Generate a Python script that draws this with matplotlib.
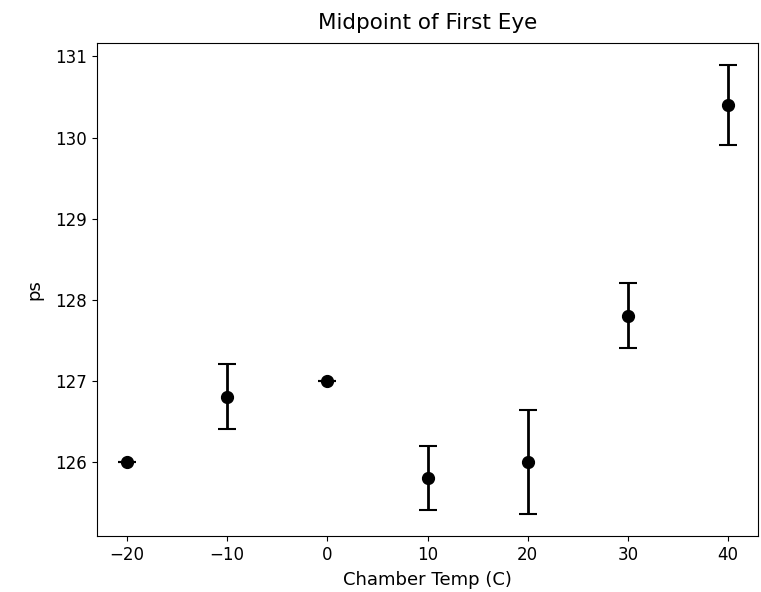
import matplotlib
matplotlib.use('Agg')
import matplotlib.pyplot as plt

temps = [-20, -10, 0, 10, 20, 30, 40]
midpoint = [126.0, 126.8, 127.0, 125.8, 126.0, 127.8, 130.4]
err = [0.0, 0.4, 0.0, 0.4, 0.64, 0.4, 0.49]

fig = plt.figure(figsize=(7.61, 5.92), dpi=100)
ax = fig.add_axes([0.1275, 0.0946, 0.8686, 0.8328])
ax.errorbar(temps, midpoint, yerr=err, fmt='o', color='black',
            markersize=8.5, capsize=6.5, elinewidth=2, capthick=1.5)
ax.set_title('Midpoint of First Eye', fontsize=15.5, pad=10)
ax.set_xlabel('Chamber Temp (C)', fontsize=13, labelpad=5)
ax.set_ylabel('ps', fontsize=13, labelpad=9)
ax.tick_params(labelsize=12)

fig.savefig('out.png', dpi=100)
